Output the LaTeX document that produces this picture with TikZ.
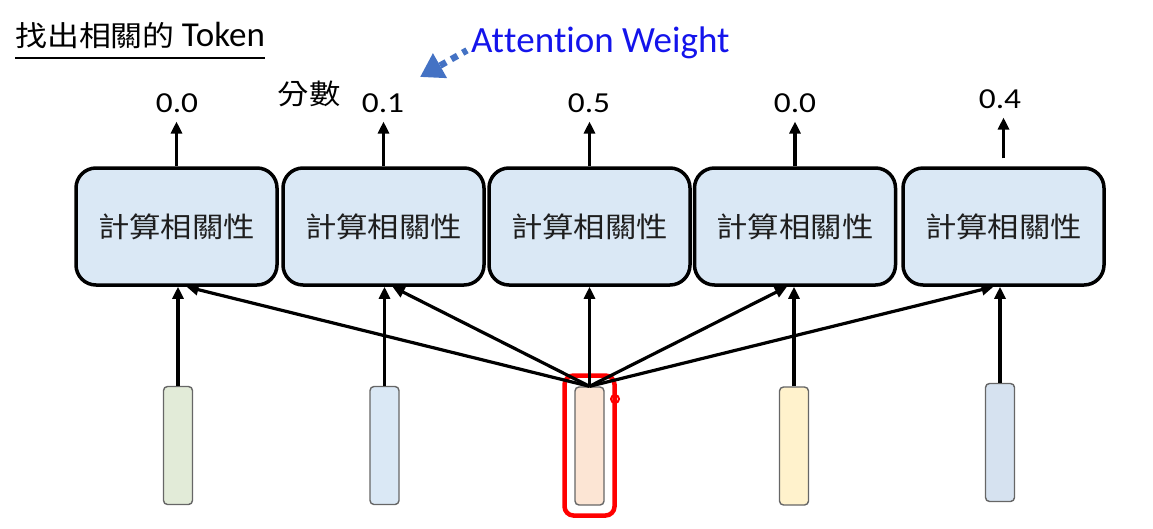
\documentclass[tikz,border=0pt]{standalone}
\usepackage{fontspec}
\setmainfont{Carlito}[Ligatures=NoCommon]
\newfontfamily\cjk[FakeStretch=1.12]{Noto Sans CJK TC}
\newfontfamily\numf[FakeStretch=1.15]{Carlito}
\newfontfamily\latf[Ligatures={NoCommon,NoContextual}]{Carlito}
\usetikzlibrary{arrows.meta}
\definecolor{boxblue}{RGB}{218,232,245}
\definecolor{barg}{RGB}{226,235,216}
\definecolor{barb}{RGB}{218,232,245}
\definecolor{barp}{RGB}{252,229,212}
\definecolor{bary}{RGB}{255,242,204}
\definecolor{barb2}{RGB}{214,226,240}
\definecolor{awblue}{RGB}{20,20,235}
\definecolor{arrblue}{RGB}{68,114,196}
\definecolor{txtgray}{RGB}{30,30,30}
\tikzset{
  cbox/.style={draw=black, line width=3.5pt, fill=boxblue, rounded corners=20pt,
    minimum width=201pt, minimum height=117pt, inner sep=0pt,
    font=\cjk\fontsize{28}{30}\selectfont, text=txtgray},
  vbar/.style={draw=black!60, line width=1.4pt, rounded corners=4pt,
    minimum width=29pt, minimum height=118pt, inner sep=0pt},
  numlab/.style={inner sep=0pt, outer sep=9pt, font=\numf\fontsize{29}{31}\selectfont},
  arr/.style={line width=3.2pt, -{Triangle[length=12pt,width=11pt]}},
}
\begin{document}
\begin{tikzpicture}[x=1pt,y=-1pt]
\useasboundingbox (0,0) rectangle (1153,528);
% title
\node[anchor=base west, inner sep=0pt] (title) at (15,46)
  {\cjk\fontsize{28.5}{30}\selectfont 找出相關的 {\latf\fontsize{35}{37}\selectfont Token}};
\draw[line width=2pt] ([yshift=-12pt]title.base west) -- ([yshift=-12pt]title.base east);
% attention weight
\node[anchor=base west, inner sep=0pt, text=awblue, font=\latf\fontsize{37}{39}\selectfont] (aw) at (471,52) {At\kern0pt t\kern0pt ent\kern0pt ion Weight};
\coordinate (awtip) at (420,77);
\draw[arrblue, line width=6.5pt, dash pattern=on 7pt off 6pt, dash phase=2pt,
  -{Triangle[length=23pt,width=27pt]}] ([xshift=-4pt,yshift=-8pt]aw.west) -- (awtip);
% score label
\node[inner sep=0pt, font=\cjk\fontsize{28}{30}\selectfont] (score) at (309,94) {分數};
% boxes
\node[cbox] (b1) at (176.5,226.5) {計算相關性};
\node[cbox] (b2) at (383.5,226.5) {計算相關性};
\node[cbox] (b3) at (589.5,226.5) {計算相關性};
\node[cbox] (b4) at (795,226.5) {計算相關性};
\node[cbox] (b5) at (1003.5,226.5) {計算相關性};
% numbers
\node[numlab] (n1) at (177,103) {0.0};
\node[numlab] (n2) at (383,103) {0.1};
\node[numlab] (n3) at (589,103) {0.5};
\node[numlab] (n4) at (795,103) {0.0};
\node[numlab] (n5) at (1000,99) {0.4};
\draw[arr] (b1.north) -- (b1.north |- n1.south);
\draw[arr] (b2.north) -- (b2.north |- n2.south);
\draw[arr] (b3.north) -- (b3.north |- n3.south);
\draw[arr] (b4.north) -- (b4.north |- n4.south);
\draw[arr] ([yshift=8pt]b5.north) -- (b5.north |- n5.south);
% vectors
\node[vbar, fill=barg] (v1) at (178,445.5) {};
\node[vbar, fill=barb] (v2) at (384.5,445.5) {};
\node[vbar, fill=barp] (v3) at (589.5,446) {};
\node[vbar, fill=bary] (v4) at (794,446) {};
\node[vbar, fill=barb2] (v5) at (1000,442.5) {};
% highlight
\node[draw=red, line width=4.5pt, rounded corners=9pt, minimum width=50pt, minimum height=140pt, inner sep=0pt] (hl) at (589.5,445.5) {};
\node[draw=red, circle, line width=2pt, minimum size=8pt, inner sep=0pt] (dot) at (615,399) {};
% connectors
\draw[arr] (v1.north) -- (v1.north |- b1.south);
\draw[arr] (v2.north) -- (v2.north |- b2.south);
\draw[arr] (v3.north) -- (v3.north |- b3.south);
\draw[arr] (v4.north) -- (v4.north |- b4.south);
\draw[arr] (v5.north) -- (v5.north |- b5.south);
\draw[arr] (v3.north) -- ([xshift=10pt]b1.south);
\draw[arr] (v3.north) -- ([xshift=9pt]b2.south);
\draw[arr] (v3.north) -- ([xshift=-8pt]b4.south);
\draw[arr] (v3.north) -- ([xshift=-10pt]b5.south);
\end{tikzpicture}
\end{document}
